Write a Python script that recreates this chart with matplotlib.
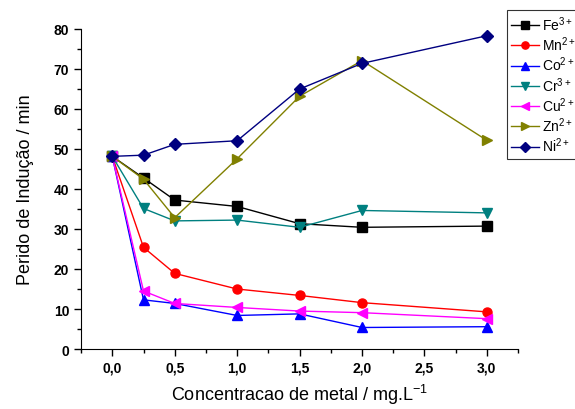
import matplotlib
matplotlib.use('Agg')
import matplotlib.pyplot as plt
from matplotlib.ticker import MultipleLocator, FuncFormatter

plt.rcParams['font.family'] = ['Liberation Sans', 'DejaVu Sans']
plt.rcParams['mathtext.default'] = 'regular'

concentracao = [0.0, 0.25, 0.5, 1.0, 1.5, 2.0, 3.0]
fe = [48.1, 42.7, 37.2, 35.6, 31.3, 30.4, 30.7]
mn = [48.1, 25.4, 18.9, 15.0, 13.4, 11.6, 9.3]
co = [48.1, 12.3, 11.4, 8.4, 8.8, 5.4, 5.6]
cr = [48.1, 35.1, 32.0, 32.2, 30.4, 34.6, 34.0]
cu = [48.1, 14.5, 11.4, 10.4, 9.5, 9.1, 7.6]
zn = [48.1, 42.4, 32.8, 47.5, 63.1, 72.0, 52.1]
ni = [48.1, 48.4, 51.1, 52.0, 64.9, 71.3, 78.2]

series = [
    (fe, 'Fe$^{3+}$', 'black', 's'),
    (mn, 'Mn$^{2+}$', 'red', 'o'),
    (co, 'Co$^{2+}$', 'blue', '^'),
    (cr, 'Cr$^{3+}$', '#008080', 'v'),
    (cu, 'Cu$^{2+}$', 'magenta', '<'),
    (zn, 'Zn$^{2+}$', '#808000', '>'),
    (ni, 'Ni$^{2+}$', '#000080', 'D'),
]

fig = plt.figure(figsize=(5.75, 4.1), dpi=100)
ax = fig.add_axes([0.141, 0.146, 0.760, 0.782])

for valores, nome, cor, marcador in series:
    ax.plot(concentracao, valores, color=cor, marker=marcador, markersize=6.5,
            linewidth=1.0, label=nome, clip_on=False)

ax.set_xlim(-0.25, 3.25)
ax.set_ylim(0, 80)
ax.xaxis.set_major_locator(MultipleLocator(0.5))
ax.xaxis.set_minor_locator(MultipleLocator(0.25))
ax.yaxis.set_major_locator(MultipleLocator(10))
ax.yaxis.set_minor_locator(MultipleLocator(5))
ax.xaxis.set_major_formatter(FuncFormatter(lambda v, p: f'{v:.1f}'.replace('.', ',')))

ax.spines['top'].set_visible(False)
ax.spines['right'].set_visible(False)
ax.tick_params(which='major', direction='out', length=5, width=1, labelsize=10)
ax.tick_params(which='minor', direction='out', length=3, width=1)
for lbl in ax.get_xticklabels() + ax.get_yticklabels():
    lbl.set_fontweight('bold')

ax.set_xlabel('Concentracao de metal / mg.L$^{-1}$', fontsize=13, labelpad=5)
ax.set_ylabel('Perido de Indução / min', fontsize=13, labelpad=14)

leg = fig.legend(loc='upper left', bbox_to_anchor=(0.882, 0.973), fontsize=10,
                 frameon=True, fancybox=False, edgecolor='black',
                 handlelength=2.0, handletextpad=0.2, labelspacing=0.12,
                 borderpad=0.3, borderaxespad=0, markerscale=0.8)
leg.get_frame().set_linewidth(0.8)

fig.savefig('out.png', dpi=100)
